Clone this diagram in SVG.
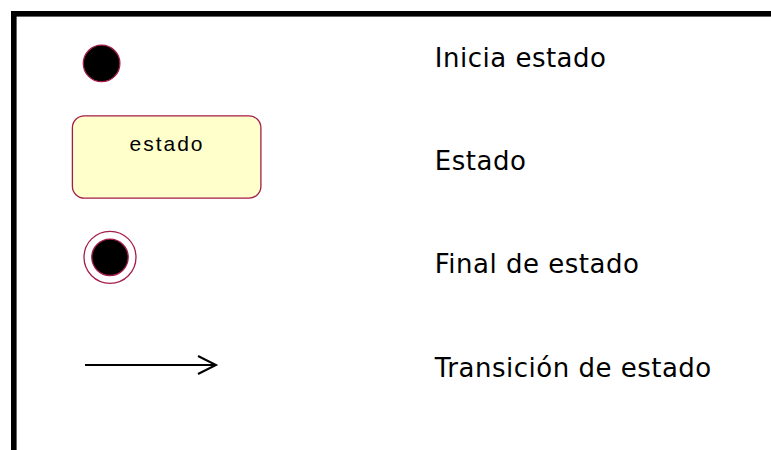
<svg xmlns="http://www.w3.org/2000/svg" width="771" height="450" viewBox="0 0 771 450">
<style>
.lbl{font-family:"DejaVu Sans",Verdana,sans-serif;font-size:26px;fill:#000;letter-spacing:0.5px}
.st{font-family:"Liberation Sans",Arial,sans-serif;font-size:21px;fill:#000;letter-spacing:2px}
.dot{fill:#000;stroke:#a51d4a;stroke-width:1.3}
.ring{fill:#fff;stroke:#a51d4a;stroke-width:1.3}
.box{fill:#ffffcc;stroke:#a51d4a;stroke-width:1.3}
.conn{fill:none;stroke:#000;stroke-width:2}
</style>
<rect x="0" y="0" width="771" height="450" fill="#fff"/>
<rect x="13.8" y="13.8" width="800" height="500" fill="none" stroke="#000" stroke-width="5.6"/>
<g id="initial">
<circle cx="101.6" cy="63.4" r="18.3" class="dot"/>
</g>
<g id="state">
<rect x="72.4" y="115.8" width="188.5" height="82.4" rx="12" ry="12" class="box"/>
<text class="st" x="129.5" y="150.5">estado</text>
</g>
<g id="final">
<circle cx="110" cy="257.3" r="26" class="ring"/>
<circle cx="110" cy="257.3" r="18.2" class="dot"/>
</g>
<g id="connectors">
<line x1="85" y1="365" x2="215" y2="365" class="conn"/>
<polyline points="198,356 216,365 198,374" class="conn"/>
</g>
<g id="labels">
<text class="lbl" x="434.8" y="66.7">Inicia estado</text>
<text class="lbl" x="434.8" y="170">Estado</text>
<text class="lbl" x="434.8" y="273.3">Final de estado</text>
<text class="lbl" x="434.8" y="376.5">Transición de estado</text>
</g>
</svg>
